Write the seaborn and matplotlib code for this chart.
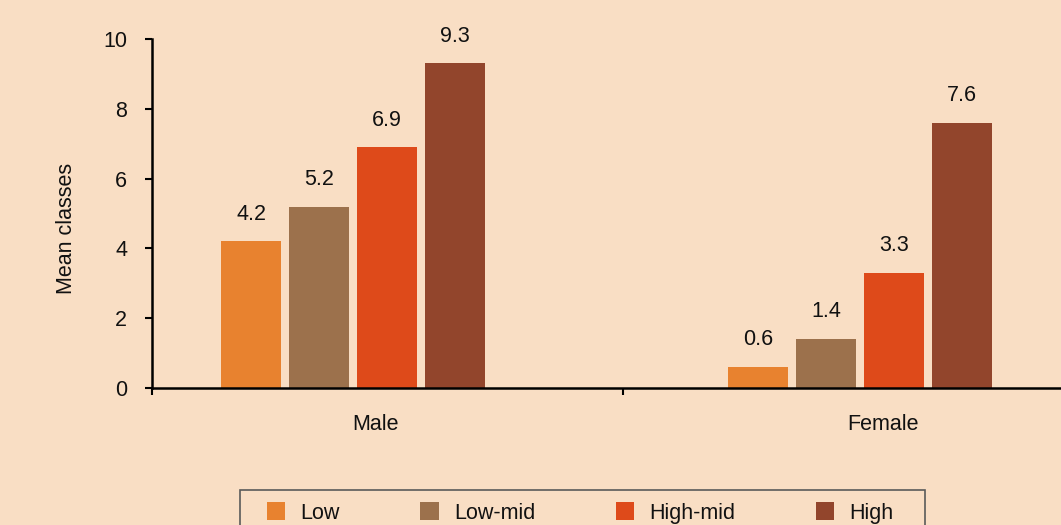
import matplotlib
matplotlib.use("Agg")
import matplotlib.pyplot as plt
from matplotlib.patches import Rectangle
import seaborn as sns
import pandas as pd

# Mean number of classes by sex and level
sexes = ["Male", "Female"]
levels = ["Low", "Low-mid", "High-mid", "High"]
male_values = [4.2, 5.2, 6.9, 9.3]
female_values = [0.6, 1.4, 3.3, 7.6]
level_colors = ["#E8822F", "#9C714C", "#DE4A1A", "#92452C"]
y_ticks = [0, 2, 4, 6, 8, 10]

BG = "#F9DEC4"
INK = "#111111"

df = pd.DataFrame({
    "sex": [s for s in sexes for _ in levels],
    "level": levels * len(sexes),
    "value": male_values + female_values,
})

sns.set_theme(style="white")
plt.rcParams["font.family"] = ["Liberation Sans", "DejaVu Sans"]
plt.rcParams["font.size"] = 15

W, H = 1061, 525
fig = plt.figure(figsize=(W / 100, H / 100), dpi=100, facecolor=BG)
ax = fig.add_axes([152 / W, 1 - 388 / H, 1 - 152 / W, (388 - 39) / H])
ax.set_facecolor(BG)

sns.barplot(
    data=df, x="sex", y="value", hue="level", order=sexes, hue_order=levels,
    palette=level_colors, width=0.537, gap=0.12, saturation=1,
    linewidth=0, edgecolor="none", ax=ax, legend=True,
)

for cont in ax.containers:
    ax.bar_label(cont, fmt="%.1f", padding=12, fontsize=15.5, color=INK)

ax.set_ylim(0, 10)
ax.set_yticks(y_ticks)
ax.set_xlim(-0.397, 1.397)

# category boundary ticks (no labels) and centered category names
ax.set_xticks([-0.397, 0.533], labels=["", ""])
ax.set_xticks([0.045, 1.045], labels=sexes, minor=True)
ax.tick_params(axis="x", which="major", direction="out", length=5, width=1.5,
               color="black", bottom=True)
ax.tick_params(axis="x", which="minor", length=0, pad=19, labelsize=15.5,
               labelcolor=INK, bottom=True)
ax.tick_params(axis="y", direction="out", length=5, width=1.5, color="black",
               pad=13, labelsize=15.5, labelcolor=INK, left=True)

for side in ["top", "right"]:
    ax.spines[side].set_visible(False)
for side in ["left", "bottom"]:
    ax.spines[side].set_color("black")
    ax.spines[side].set_linewidth(1.8)

ax.set_xlabel("")
ax.set_ylabel("")
fig.text(67 / W, 1 - 228 / H, "Mean classes", rotation=90,
         ha="center", va="center", fontsize=15.5, color=INK)

# legend box, running off the bottom edge
fig.patches.append(Rectangle(
    (240 / W, -0.05), (925 - 240) / W, 0.05 + 1 - 490 / H,
    transform=fig.transFigure, facecolor=BG, edgecolor="#5A5A5A",
    linewidth=1.2, zorder=0,
))

handles, labels = ax.get_legend_handles_labels()
ax.get_legend().remove()
leg = fig.legend(
    handles, labels, loc="center left",
    bbox_to_anchor=(267 / W, 1 - 513 / H), bbox_transform=fig.transFigure,
    ncol=4, frameon=False, fontsize=15.5,
    handlelength=0.85, handleheight=0.85, handletextpad=0.7,
    columnspacing=3.75, borderpad=0, borderaxespad=0,
)
for t in leg.get_texts():
    t.set_color(INK)

fig.savefig("out.png", dpi=100, facecolor=BG)
